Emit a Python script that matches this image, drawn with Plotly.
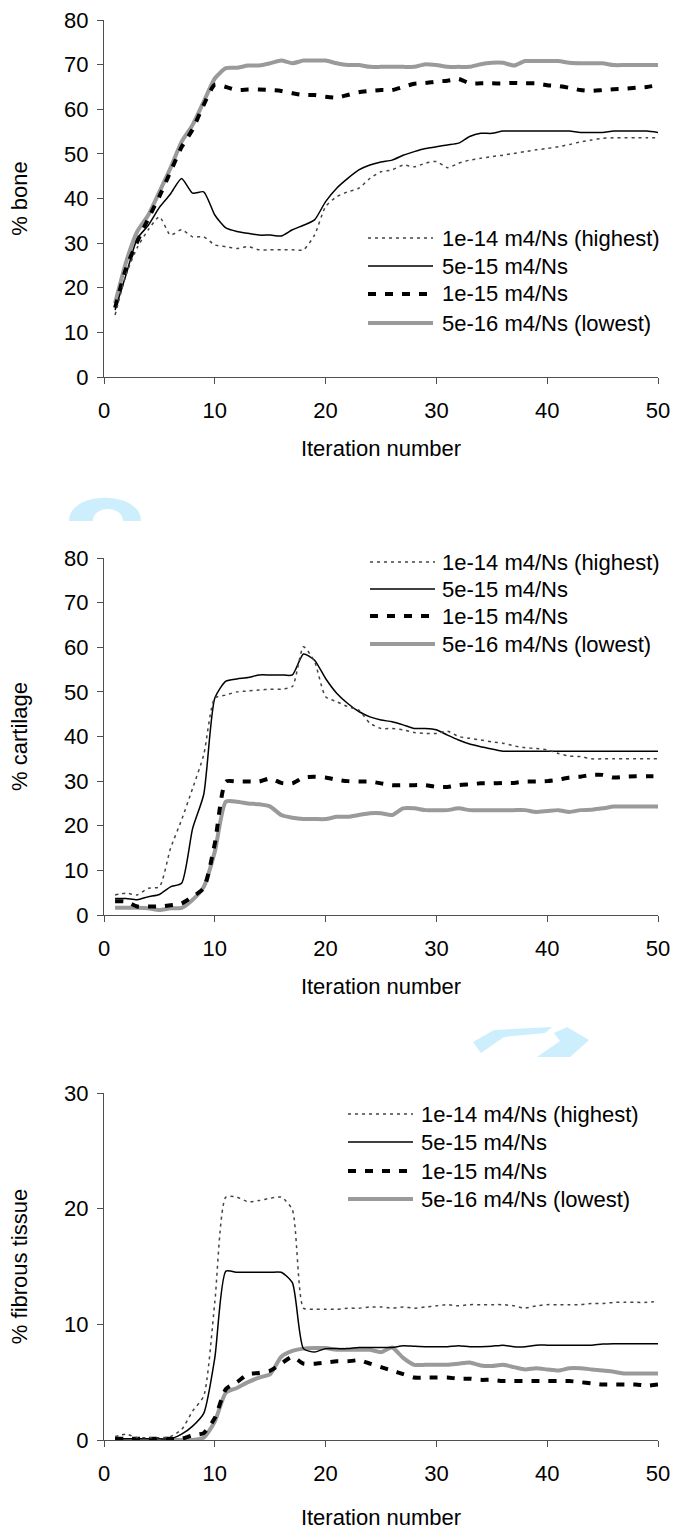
import plotly.graph_objects as go

# ---------------- data ----------------
iterations = list(range(1, 51))
series_names = ["1e-14 m4/Ns (highest)", "5e-15 m4/Ns", "1e-15 m4/Ns", "5e-16 m4/Ns (lowest)"]

bone_1e14 = [13.9, 23, 29, 33, 35.9, 31.8, 33, 31.4, 31.4, 29.6,
             29.2, 28.8, 29.2, 28.5, 28.5, 28.5, 28.5, 28.5, 31.8, 38.2,
             40.4, 41.5, 42.3, 44.5, 46, 46.4, 47.5, 47.1, 47.9, 48.3,
             46.9, 47.9, 48.6, 49, 49.4, 49.7, 50.1, 50.5, 50.9, 51.2,
             51.6, 52.1, 52.7, 53.1, 53.5, 53.6, 53.6, 53.6, 53.6, 53.6]
bone_5e15 = [15, 23, 31, 34, 38, 41, 44.5, 41.2, 41.5, 36.3,
             33.4, 32.6, 32.2, 31.8, 31.8, 31.6, 33, 34, 35.2, 39.3,
             42.3, 44.5, 46.4, 47.5, 48.2, 48.6, 49.7, 50.5, 51.2, 51.6,
             52, 52.4, 53.9, 54.6, 54.6, 55.1, 55.1, 55.1, 55.1, 55.1,
             55.1, 55.1, 54.8, 54.8, 54.8, 55.1, 55.1, 55.1, 55.1, 54.8]
bone_1e15 = [15.5, 24.4, 30.3, 35.5, 40.5, 46, 51.5, 55.5, 61, 65.5,
             65, 64.3, 64.4, 64.4, 64.3, 64.1, 63.6, 63.2, 63.2, 62.8,
             62.6, 63.2, 63.8, 64.1, 64.3, 64.3, 65, 65.7, 65.9, 66.2,
             66.4, 66.8, 65.8, 65.8, 65.8, 65.8, 65.9, 65.8, 65.8, 65.4,
             65.2, 64.8, 64.3, 64.1, 64.3, 64.5, 64.6, 64.8, 65, 65.4]
bone_5e16 = [16.5, 25.8, 32.6, 36.3, 41.5, 46.8, 52.7, 56.5, 61.7, 66.9,
             69.2, 69.3, 69.8, 69.8, 70.3, 70.9, 70.3, 70.9, 70.9, 70.9,
             70.3, 69.9, 69.9, 69.5, 69.5, 69.5, 69.5, 69.5, 70.1, 69.9,
             69.5, 69.5, 69.5, 70.1, 70.4, 70.4, 69.8, 70.8, 70.8, 70.8,
             70.8, 70.4, 70.3, 70.3, 70.3, 69.9, 69.9, 69.9, 69.9, 69.9]

cart_1e14 = [4.5, 4.9, 4.5, 6, 6.3, 14.9, 21.3, 28.4, 35.9, 48.6,
             49.3, 50, 50.2, 50.4, 50.6, 50.6, 51.2, 60.1, 56.8, 48.9,
             47.8, 46.7, 45.9, 43, 41.8, 41.8, 41.5, 40.9, 40.7, 40.7,
             41.2, 40, 39.6, 39.2, 38.8, 38.5, 37.9, 37.5, 37.3, 37,
             36.2, 35.6, 35.5, 35, 35, 35, 35, 35, 35, 35]
cart_5e15 = [3.7, 3.7, 3.4, 4.1, 4.6, 6.3, 7.1, 19.4, 27, 48.6,
             52.4, 52.9, 53.2, 53.8, 53.8, 53.8, 53.8, 58.5, 57.1, 53,
             49.7, 47.4, 45.6, 44.4, 43.7, 43.3, 42.6, 41.8, 41.8, 41.5,
             40.3, 39.2, 38.3, 37.7, 37.2, 36.7, 36.7, 36.7, 36.7, 36.7,
             36.7, 36.7, 36.7, 36.7, 36.7, 36.7, 36.7, 36.7, 36.7, 36.7]
cart_1e15 = [3.1, 3, 1.9, 1.9, 1.9, 2.2, 2.6, 4.1, 6, 16,
             29.9, 29.9, 29.9, 29.9, 30.6, 29.6, 29.5, 30.8, 31, 30.8,
             30.3, 30, 29.9, 29.9, 29.5, 29.1, 29.1, 29.1, 29.1, 28.7,
             28.7, 29.1, 29.3, 29.5, 29.5, 29.6, 29.6, 29.9, 29.9, 30,
             30.3, 30.8, 31, 31.4, 31.4, 30.8, 31, 31.1, 31.1, 31.1]
cart_5e16 = [1.6, 1.6, 1.6, 1.5, 1.1, 1.5, 1.6, 3.4, 6.3, 14.2,
             25.4, 25.4, 25, 24.8, 24.3, 22.4, 21.8, 21.5, 21.5, 21.5,
             22, 22, 22.4, 22.8, 22.8, 22.4, 23.9, 23.9, 23.5, 23.5,
             23.5, 23.9, 23.5, 23.5, 23.5, 23.5, 23.5, 23.5, 23.1, 23.3,
             23.5, 23.1, 23.5, 23.6, 23.9, 24.3, 24.3, 24.3, 24.3, 24.3]

fib_1e14 = [0.3, 0.5, 0.2, 0.2, 0.2, 0.3, 0.9, 2.5, 3.8, 11.9,
            21, 21, 20.6, 20.7, 20.9, 21, 19.9, 11.4, 11.3, 11.3,
            11.3, 11.4, 11.4, 11.5, 11.5, 11.4, 11.5, 11.4, 11.5, 11.6,
            11.7, 11.6, 11.7, 11.7, 11.7, 11.7, 11.6, 11.4, 11.6, 11.7,
            11.7, 11.7, 11.7, 11.8, 11.8, 11.9, 11.9, 11.9, 11.9, 12]
fib_5e15 = [0.1, 0.1, 0.1, 0.1, 0.1, 0.1, 0.5, 1.2, 2.3, 7.1,
            14.6, 14.5, 14.5, 14.5, 14.5, 14.5, 13.6, 7.9, 7.6, 7.9,
            7.9, 7.9, 8, 8, 8, 8, 8.15, 8.1, 8.06, 8.06,
            8.06, 8.15, 8.06, 8.06, 8.1, 8.2, 8.06, 8.06, 8.2, 8.2,
            8.2, 8.2, 8.2, 8.2, 8.3, 8.33, 8.33, 8.33, 8.33, 8.33]
fib_1e15 = [0.1, 0.1, 0.1, 0.1, 0.1, 0.1, 0.1, 0.4, 0.6, 1.9,
            4.4, 5, 5.7, 5.8, 6, 6.6, 7.2, 6.6, 6.6, 6.7,
            6.8, 6.8, 6.9, 6.6, 6.3, 6, 5.7, 5.4, 5.4, 5.4,
            5.4, 5.3, 5.3, 5.2, 5.2, 5.1, 5.1, 5.1, 5.1, 5.1,
            5.1, 5.1, 5, 4.9, 4.8, 4.8, 4.8, 4.8, 4.7, 4.8]
fib_5e16 = [0, 0, 0, 0, 0, 0, 0, 0, 0.2, 1.6,
            4.1, 4.5, 5, 5.4, 5.7, 7.2, 7.7, 7.9, 7.95, 7.95,
            7.8, 7.8, 7.8, 7.8, 7.6, 8, 7.1, 6.5, 6.5, 6.5,
            6.5, 6.6, 6.7, 6.45, 6.4, 6.5, 6.3, 6.1, 6.2, 6.1,
            6, 6.2, 6.2, 6.1, 6, 5.9, 5.75, 5.75, 5.75, 5.75]

x_ticks = [0, 10, 20, 30, 40, 50]
y_titles = ["% bone", "% cartilage", "% fibrous tissue"]
x_title = "Iteration number"
y_ranges = [[0, 80], [0, 80], [0, 30]]

panels = [
    [bone_1e14, bone_5e15, bone_1e15, bone_5e16],
    [cart_1e14, cart_5e15, cart_1e15, cart_5e16],
    [fib_1e14, fib_5e15, fib_1e15, fib_5e16],
]

# ---------------- styling / layout ----------------
W, H = 674, 1538
ML, MR = 104, 16
PW = W - ML - MR
FONT = "Liberation Sans, Arial, sans-serif"
AXIS_COL = "#505050"

styles = [
    dict(color="#444444", width=1.5, dash="3px,4px"),
    dict(color="#000000", width=1.5),
    dict(color="#000000", width=4, dash="8px,9px"),
    dict(color="#9a9a9a", width=4),
]

def px(xp):
    return (xp - ML) / PW

def py(yp):
    return 1 - yp / H

# panel pixel geometry (top, bottom)
panel_px = [(20, 377), (558, 915), (1093, 1440)]
title_standoff = [18, 18, 24]
legend_px = [
    dict(x0=368, x1=433, tx=440, rows=[238, 266, 294, 323]),
    dict(x0=370, x1=435, tx=440, rows=[562, 589, 616, 644]),
    dict(x0=348, x1=413, tx=419, rows=[1114, 1142, 1171, 1199]),
]

fig = go.Figure()
for i, series in enumerate(panels):
    sfx = "" if i == 0 else str(i + 1)
    # draw order: gray and dashed first, then thin lines on top
    for k in [3, 2, 1, 0]:
        fig.add_trace(go.Scatter(
            x=iterations, y=series[k], mode="lines", name=series_names[k],
            line=dict(shape="spline", smoothing=0.6, **styles[k]),
            xaxis="x" + sfx, yaxis="y" + sfx, showlegend=False,
            hoverinfo="skip"))

layout = dict(
    width=W, height=H,
    margin=dict(l=ML, r=MR, t=0, b=0),
    paper_bgcolor="white", plot_bgcolor="white",
    font=dict(family=FONT, size=22, color="black"),
    showlegend=False,
)

shapes = []
annotations = []
for i in range(3):
    sfx = "" if i == 0 else str(i + 1)
    top, bot = panel_px[i]
    layout["xaxis" + sfx] = dict(
        domain=[0, 1], anchor="y" + sfx, range=[0, 50], tickvals=x_ticks,
        ticks="outside", ticklen=6, tickcolor=AXIS_COL, showline=True,
        linecolor=AXIS_COL, linewidth=1, showgrid=False, zeroline=False,
        ticklabelstandoff=8, tickfont=dict(size=22),
        title=dict(text=x_title, standoff=title_standoff[i], font=dict(size=22)),
        automargin=False, fixedrange=True)
    layout["yaxis" + sfx] = dict(
        domain=[py(bot), py(top)], anchor="x" + sfx, range=y_ranges[i], dtick=10,
        ticks="outside", ticklen=6, tickcolor=AXIS_COL, showline=True,
        linecolor=AXIS_COL, linewidth=1, showgrid=False, zeroline=False,
        ticklabelstandoff=4, tickfont=dict(size=22),
        title=dict(text=y_titles[i], standoff=30, font=dict(size=22)),
        automargin=False, fixedrange=True)
    lg = legend_px[i]
    for k in range(4):
        yy = py(lg["rows"][k])
        st = styles[k]
        shapes.append(dict(type="line", xref="paper", yref="paper",
                           x0=px(lg["x0"]), x1=px(lg["x1"]), y0=yy, y1=yy,
                           line=dict(color=st["color"], width=st["width"],
                                     dash=st.get("dash", "solid"))))
        annotations.append(dict(xref="paper", yref="paper", x=px(lg["tx"]), y=yy,
                                text=series_names[k], showarrow=False,
                                xanchor="left", yanchor="middle",
                                font=dict(size=22, color="black")))

# faint light-blue watermark fragments present in the source image
def path_from(points):
    s = "M {},{}".format(px(points[0][0]), py(points[0][1]))
    for (a, b) in points[1:]:
        s += " L {},{}".format(px(a), py(b))
    return s + " Z"

arc = ("M {},{} C {},{} {},{} {},{} L {},{} C {},{} {},{} {},{} Z".format(
    px(69), py(521), px(69), py(490), px(141), py(490), px(141), py(521),
    px(123), py(521), px(123), py(505), px(93), py(505), px(93), py(521)))
wm_col = "#cdeefc"
shapes.append(dict(type="path", xref="paper", yref="paper", path=arc,
                   fillcolor=wm_col, line=dict(width=0), layer="below"))
shapes.append(dict(type="path", xref="paper", yref="paper",
                   path=path_from([(473, 1042), (494, 1030), (552, 1027), (545, 1033),
                                   (504, 1037), (481, 1053)]),
                   fillcolor=wm_col, line=dict(width=0), layer="below"))
shapes.append(dict(type="path", xref="paper", yref="paper",
                   path=path_from([(537, 1057), (560, 1041), (554, 1033), (567, 1027),
                                   (589, 1040), (570, 1057)]),
                   fillcolor=wm_col, line=dict(width=0), layer="below"))

layout["shapes"] = shapes
layout["annotations"] = annotations
fig.update_layout(**layout)
fig.write_html("out.html")
